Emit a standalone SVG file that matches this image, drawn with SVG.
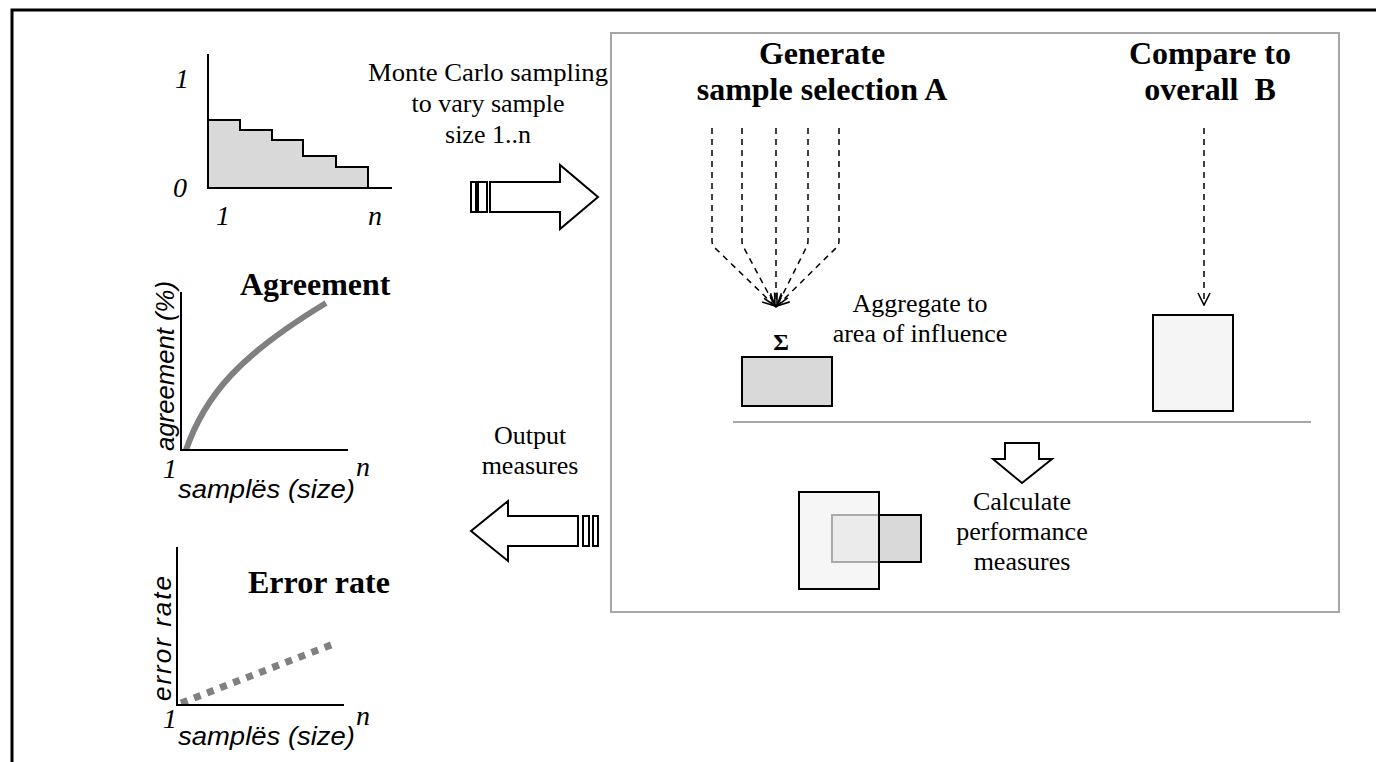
<svg xmlns="http://www.w3.org/2000/svg" width="1376" height="762" viewBox="0 0 1376 762">
<style>
.ser{font-family:"Liberation Serif","Times New Roman",serif;fill:#000}
.b{font-weight:bold;font-size:32px}
.r{font-size:26px}
.mc{font-size:26px}
.it{font-style:italic;font-size:28px}
.san{font-family:"Liberation Sans",Arial,sans-serif;font-style:italic;font-size:26px;fill:#000}
.ax{stroke:#000;stroke-width:2;fill:none}
.dash{stroke:#000;stroke-width:1.5;fill:none;stroke-dasharray:6,5}
.blk{fill:#fff;stroke:#000;stroke-width:2}
</style>
<defs>
<marker id="vh" viewBox="0 0 14 14" refX="13" refY="7" markerWidth="14" markerHeight="14" markerUnits="userSpaceOnUse" orient="auto">
<path d="M1,1 L13,7 L1,13" fill="none" stroke="#000" stroke-width="1.6"/>
</marker>
</defs>
<rect width="1376" height="762" fill="#fff"/>
<path d="M12,762 V10 H1376" fill="none" stroke="#000" stroke-width="3"/>

<g id="step-plot">
<path d="M208,188 V120 H240 V130 H272 V140 H303 V156 H336 V167 H368 V188 Z" fill="#d9d9d9" stroke="#000" stroke-width="2"/>
<path class="ax" d="M208,54 V188 H392"/>
<text class="ser it" x="175" y="88">1</text>
<text class="ser it" x="173" y="197">0</text>
<text class="ser it" x="216" y="225">1</text>
<text class="ser it" x="368" y="225">n</text>
</g>

<g id="mc-label">
<text class="ser mc" text-anchor="middle" x="488" y="81" textLength="240" lengthAdjust="spacingAndGlyphs">Monte Carlo sampling</text>
<text class="ser mc" text-anchor="middle" x="488" y="112">to vary sample</text>
<text class="ser mc" text-anchor="middle" x="488" y="143">size 1..n</text>
</g>

<g id="arrow-right">
<rect class="blk" x="471" y="182" width="5" height="30"/>
<rect class="blk" x="478" y="182" width="9" height="30"/>
<polygon class="blk" points="490,182 560,182 560,165 598,197 560,229 560,212 490,212"/>
</g>

<g id="agreement-plot">
<path d="M186,450 C205,395 240,355 326,303" fill="none" stroke="#808080" stroke-width="6"/>
<path class="ax" d="M181,292 V450 H348"/>
<text class="ser b" x="240" y="295">Agreement</text>
<text class="san" transform="translate(174,451) rotate(-90)" textLength="170" lengthAdjust="spacingAndGlyphs">agreement (%)</text>
<text class="ser it" x="163" y="478">1</text>
<text class="ser it" x="356" y="476">n</text>
<text class="san" x="178" y="498" textLength="177" lengthAdjust="spacingAndGlyphs">samplës (size)</text>
</g>

<g id="error-plot">
<line x1="181" y1="703" x2="336" y2="643" stroke="#808080" stroke-width="7" stroke-dasharray="7,7"/>
<path class="ax" d="M177,547 V705 H344"/>
<text class="ser b" x="248" y="593">Error rate</text>
<text class="san" transform="translate(171,701) rotate(-90)" textLength="125" lengthAdjust="spacing">error rate</text>
<text class="ser it" x="163" y="728">1</text>
<text class="ser it" x="356" y="725">n</text>
<text class="san" x="178" y="745" textLength="177" lengthAdjust="spacingAndGlyphs">samplës (size)</text>
</g>

<g id="output-label">
<text class="ser r" text-anchor="middle" x="530" y="444">Output</text>
<text class="ser r" text-anchor="middle" x="530" y="474">measures</text>
</g>

<g id="arrow-left">
<polygon class="blk" points="578,516 508,516 508,501 471,531 508,561 508,546 578,546"/>
<rect class="blk" x="583" y="516" width="6" height="30"/>
<rect class="blk" x="593" y="516" width="5" height="30"/>
</g>

<g id="process-panel">
<rect x="611" y="33" width="728" height="579" fill="#fff" stroke="#a6a6a6" stroke-width="2"/>
<line x1="733" y1="422" x2="1311" y2="422" stroke="#a6a6a6" stroke-width="2"/>
</g>

<g id="generate-A">
<text class="ser b" text-anchor="middle" x="822" y="64">Generate</text>
<text class="ser b" text-anchor="middle" x="822" y="100">sample selection A</text>
</g>

<g id="compare-B">
<text class="ser b" text-anchor="middle" x="1210" y="64">Compare to</text>
<text class="ser b" text-anchor="middle" x="1210" y="100">overall&#160; B</text>
</g>

<g id="aggregate">
<text class="ser" x="781" y="350" text-anchor="middle" font-size="24" font-weight="bold">Σ</text>
<rect x="742" y="357" width="90" height="49" fill="#d9d9d9" stroke="#000" stroke-width="2"/>
<text class="ser r" text-anchor="middle" x="920" y="312">Aggregate to</text>
<text class="ser r" text-anchor="middle" x="920" y="342">area of influence</text>
</g>

<g id="box-B">
<rect x="1153" y="315" width="80" height="96" fill="#f5f5f5" stroke="#000" stroke-width="2"/>
</g>

<g id="calc">
<polygon class="blk" points="1005,443 1039,443 1039,459 1052,459 1022,483 993,459 1005,459"/>
<rect x="832" y="515" width="89" height="47" fill="#d9d9d9" stroke="#000" stroke-width="2"/>
<rect x="799" y="492" width="80" height="97" fill="#f2f2f2" fill-opacity="0.7" stroke="#000" stroke-width="2"/>
<text class="ser r" text-anchor="middle" x="1022" y="510">Calculate</text>
<text class="ser r" text-anchor="middle" x="1022" y="540">performance</text>
<text class="ser r" text-anchor="middle" x="1022" y="570">measures</text>
</g>

<g id="connectors">
<path class="dash" d="M712,128 V241 Q712,245 715,248 L775,306" marker-end="url(#vh)"/>
<path class="dash" d="M742,128 V241 Q742,245 744,248 L775,306" marker-end="url(#vh)"/>
<path class="dash" d="M776,128 V307" marker-end="url(#vh)"/>
<path class="dash" d="M808,128 V241 Q808,245 806,248 L777,306" marker-end="url(#vh)"/>
<path class="dash" d="M839,128 V241 Q839,245 836,248 L777,306" marker-end="url(#vh)"/>
<path class="dash" d="M1204,128 V305" marker-end="url(#vh)"/>
</g>
</svg>
